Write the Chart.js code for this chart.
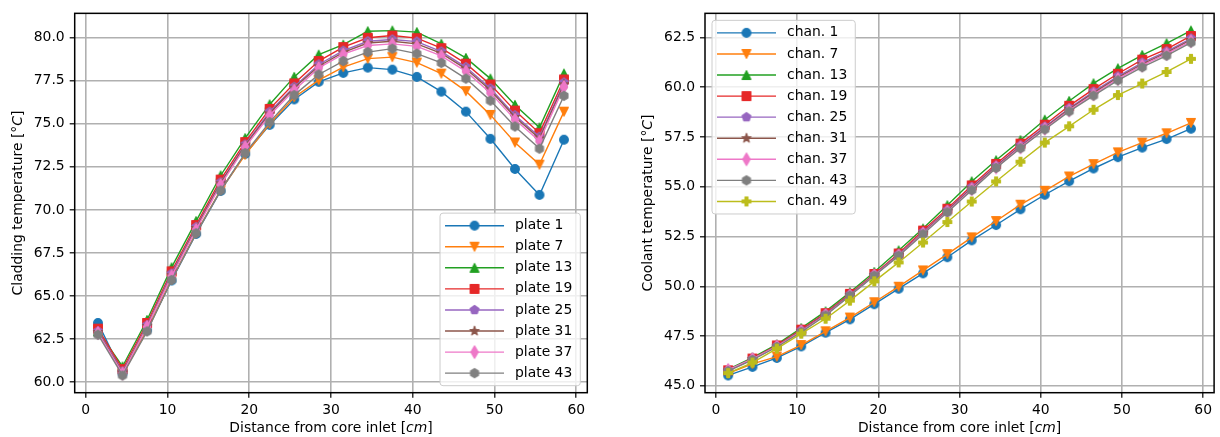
<!DOCTYPE html>
<html>
<head>
<meta charset="utf-8">
<script src="https://cdn.jsdelivr.net/npm/chart.js@4.4.0/dist/chart.umd.min.js"></script>
<style>
  html, body { margin: 0; padding: 0; background: #fff; }
  #wrap { position: relative; width: 1220px; height: 437px; }
  canvas { position: absolute; top: 0; }
</style>
</head>
<body>
<div id="wrap">
  <canvas id="cladding" width="610" height="437" style="left:0"></canvas>
  <canvas id="coolant" width="610" height="437" style="left:610px"></canvas>
</div>
<script>
// axial positions of the nodes [cm]
const distance = [1.5, 4.5, 7.5, 10.5, 13.5, 16.5, 19.5, 22.5, 25.5, 28.5, 31.5, 34.5, 37.5, 40.5, 43.5, 46.5, 49.5, 52.5, 55.5, 58.5];

// cladding temperature per plate [°C]
const plate1  = [63.43, 60.50, 63.00, 65.90, 68.60, 71.10, 73.25, 74.94, 76.42, 77.44, 77.96, 78.27, 78.15, 77.73, 76.87, 75.71, 74.13, 72.38, 70.87, 74.08];
const plate7  = [63.00, 60.45, 63.00, 65.95, 68.65, 71.15, 73.20, 75.00, 76.55, 77.54, 78.30, 78.79, 78.88, 78.56, 77.92, 76.90, 75.52, 73.92, 72.63, 75.71];
const plate13 = [62.95, 60.90, 63.60, 66.66, 69.35, 72.00, 74.17, 76.13, 77.73, 79.02, 79.60, 80.38, 80.42, 80.33, 79.65, 78.83, 77.63, 76.10, 74.79, 77.92];
const plate19 = [63.10, 60.75, 63.43, 66.43, 69.12, 71.76, 73.94, 75.87, 77.35, 78.65, 79.46, 80.00, 80.13, 79.98, 79.40, 78.50, 77.29, 75.77, 74.46, 77.58];
const plate25 = [62.95, 60.60, 63.30, 66.30, 69.00, 71.60, 73.80, 75.70, 77.15, 78.45, 79.25, 79.80, 79.90, 79.78, 79.20, 78.30, 77.05, 75.50, 74.25, 77.40];
const plate31 = [62.90, 60.55, 63.25, 66.20, 68.95, 71.55, 73.75, 75.60, 77.10, 78.35, 79.15, 79.70, 79.80, 79.65, 79.10, 78.20, 76.95, 75.40, 74.15, 77.30];
const plate37 = [62.85, 60.50, 63.20, 66.15, 68.85, 71.45, 73.65, 75.50, 76.95, 78.25, 79.05, 79.55, 79.65, 79.50, 78.95, 78.05, 76.80, 75.25, 74.00, 77.15];
const plate43 = [62.75, 60.38, 62.94, 65.93, 68.64, 71.13, 73.30, 75.10, 76.67, 77.87, 78.65, 79.17, 79.37, 79.08, 78.54, 77.63, 76.35, 74.85, 73.56, 76.63];

// coolant temperature per channel [°C]
const chan1  = [45.52, 45.95, 46.40, 46.98, 47.67, 48.34, 49.10, 49.88, 50.65, 51.46, 52.31, 53.08, 53.87, 54.60, 55.28, 55.92, 56.49, 56.97, 57.40, 57.92];
const chan7  = [45.62, 46.10, 46.47, 47.05, 47.74, 48.43, 49.20, 49.98, 50.80, 51.62, 52.46, 53.28, 54.10, 54.80, 55.52, 56.14, 56.73, 57.22, 57.69, 58.21];
const chan13 = [45.82, 46.42, 47.08, 47.90, 48.74, 49.70, 50.72, 51.80, 52.90, 54.07, 55.27, 56.33, 57.34, 58.37, 59.31, 60.20, 60.95, 61.62, 62.21, 62.85];
const chan19 = [45.78, 46.37, 47.03, 47.82, 48.65, 49.62, 50.62, 51.65, 52.80, 53.90, 55.07, 56.15, 57.17, 58.12, 59.07, 59.91, 60.68, 61.39, 61.92, 62.58];
const chan25 = [45.77, 46.35, 47.00, 47.78, 48.60, 49.58, 50.58, 51.60, 52.72, 53.82, 54.98, 56.06, 57.07, 58.02, 58.95, 59.78, 60.55, 61.24, 61.80, 62.45];
const chan31 = [45.76, 46.34, 46.98, 47.76, 48.58, 49.56, 50.56, 51.57, 52.68, 53.78, 54.93, 56.02, 57.02, 57.97, 58.90, 59.72, 60.49, 61.17, 61.74, 62.38];
const chan37 = [45.80, 46.35, 46.98, 47.74, 48.56, 49.54, 50.55, 51.55, 52.65, 53.75, 54.88, 55.97, 56.98, 57.92, 58.84, 59.65, 60.42, 61.10, 61.68, 62.32];
const chan43 = [45.74, 46.30, 46.95, 47.70, 48.53, 49.53, 50.53, 51.53, 52.62, 53.72, 54.83, 55.95, 56.94, 57.88, 58.79, 59.58, 60.35, 61.01, 61.59, 62.25];
const chan49 = [45.64, 46.17, 46.87, 47.62, 48.37, 49.28, 50.25, 51.20, 52.20, 53.23, 54.26, 55.27, 56.26, 57.22, 58.04, 58.87, 59.61, 60.19, 60.77, 61.43];

const colors = ['#1a77b6', '#ff7f0e', '#22a022', '#e62828', '#9766c0', '#8c564b', '#ee78c8', '#7f7f7f', '#bcbd1c'];
const shapes = ['circle', 'triangleDown', 'triangleUp', 'square', 'pentagon', 'star', 'thinDiamond', 'hexagon', 'plusFilled'];

const FAMILY = "'DejaVu Sans', sans-serif";
const FSIZE = 13.9;

// small canvas sprites for the matplotlib-like markers
function marker(shape, color) {
  const c = document.createElement('canvas');
  c.width = 18; c.height = 18;
  const g = c.getContext('2d');
  const r = 4.3;
  g.translate(9, 9);
  g.beginPath();
  const poly = (n, rad, rot) => {
    for (let k = 0; k < n; k++) {
      const t = rot + k * 2 * Math.PI / n;
      const px = rad * Math.sin(t), py = -rad * Math.cos(t);
      k ? g.lineTo(px, py) : g.moveTo(px, py);
    }
    g.closePath();
  };
  switch (shape) {
    case 'circle': g.arc(0, 0, r, 0, Math.PI * 2); break;
    case 'triangleDown': g.moveTo(0, r); g.lineTo(-r, -r); g.lineTo(r, -r); g.closePath(); break;
    case 'triangleUp': g.moveTo(0, -r); g.lineTo(-r, r); g.lineTo(r, r); g.closePath(); break;
    case 'square': g.rect(-r, -r, 2 * r, 2 * r); break;
    case 'pentagon': poly(5, r * 1.05, 0); break;
    case 'hexagon': poly(6, r * 1.05, 0); break;
    case 'star':
      for (let k = 0; k < 10; k++) {
        const rad = k % 2 ? r * 1.1 * 0.382 : r * 1.1;
        const t = k * Math.PI / 5;
        const px = rad * Math.sin(t), py = -rad * Math.cos(t);
        k ? g.lineTo(px, py) : g.moveTo(px, py);
      }
      g.closePath();
      break;
    case 'thinDiamond': {
      const h = r * 1.414;
      g.moveTo(0, -h); g.lineTo(h * 0.6, 0); g.lineTo(0, h); g.lineTo(-h * 0.6, 0); g.closePath();
      break;
    }
    case 'plusFilled': {
      const a = r / 3, b = r;
      g.moveTo(-a, -b); g.lineTo(a, -b); g.lineTo(a, -a); g.lineTo(b, -a); g.lineTo(b, a); g.lineTo(a, a);
      g.lineTo(a, b); g.lineTo(-a, b); g.lineTo(-a, a); g.lineTo(-b, a); g.lineTo(-b, -a); g.lineTo(-a, -a);
      g.closePath();
      break;
    }
  }
  g.fillStyle = color; g.strokeStyle = color; g.lineWidth = 1.3; g.lineJoin = 'round';
  g.fill(); g.stroke();
  return c;
}

// 5 % margin around the data, like matplotlib autoscaling
function padded(arrays) {
  const all = arrays.flat();
  const lo = Math.min(...all), hi = Math.max(...all), m = 0.05 * (hi - lo);
  return { min: lo - m, max: hi + m };
}

function drawRich(ctx, parts, x, y, rot) {
  ctx.save();
  ctx.translate(x, y);
  ctx.rotate(rot);
  ctx.textBaseline = 'middle';
  ctx.textAlign = 'left';
  ctx.fillStyle = '#000';
  const fontOf = p => (p.italic ? 'italic ' : '') + FSIZE + 'px ' + FAMILY;
  let total = 0;
  parts.forEach(p => { ctx.font = fontOf(p); total += ctx.measureText(p.text).width; });
  let cx = -total / 2;
  parts.forEach(p => { ctx.font = fontOf(p); ctx.fillText(p.text, cx, 0); cx += ctx.measureText(p.text).width; });
  ctx.restore();
}

function drawLegend(chart, lg) {
  const { ctx, chartArea: a } = chart;
  const sets = chart.data.datasets;
  ctx.save();
  ctx.font = FSIZE + 'px ' + FAMILY;
  const textW = Math.max(...sets.map(d => ctx.measureText(d.label).width));
  const rowH = 21.07, w = 75 + textW + 8, h = sets.length * rowH + 4;
  const x0 = lg.corner === 'lower right' ? a.right - lg.inset - w : a.left + lg.inset;
  const y0 = lg.corner === 'lower right' ? a.bottom - lg.inset - h : a.top + lg.inset;
  const rr = 3;
  ctx.beginPath();
  ctx.moveTo(x0 + rr, y0);
  ctx.arcTo(x0 + w, y0, x0 + w, y0 + h, rr);
  ctx.arcTo(x0 + w, y0 + h, x0, y0 + h, rr);
  ctx.arcTo(x0, y0 + h, x0, y0, rr);
  ctx.arcTo(x0, y0, x0 + w, y0, rr);
  ctx.closePath();
  ctx.fillStyle = 'rgba(255,255,255,0.8)';
  ctx.fill();
  ctx.strokeStyle = '#cccccc';
  ctx.lineWidth = 1;
  ctx.stroke();
  sets.forEach((d, i) => {
    const cy = y0 + 2 + rowH * (i + 0.5);
    ctx.beginPath();
    ctx.moveTo(x0 + 5, cy); ctx.lineTo(x0 + 64, cy);
    ctx.strokeStyle = d.borderColor; ctx.lineWidth = d.borderWidth;
    ctx.stroke();
    const img = d.pointStyle;
    ctx.drawImage(img, x0 + 34.5 - img.width / 2, cy - img.height / 2);
    ctx.fillStyle = '#000';
    ctx.textBaseline = 'middle';
    ctx.textAlign = 'left';
    ctx.fillText(d.label, x0 + 75, cy);
  });
  ctx.restore();
}

function decor(cfg) {
  return {
    id: 'decor',
    afterDatasetsDraw(chart) {
      const { ctx, chartArea: a } = chart;
      ctx.save();
      ctx.strokeStyle = '#000';
      ctx.lineWidth = 1.5;
      ctx.strokeRect(a.left, a.top, a.right - a.left, a.bottom - a.top);
      ctx.restore();
    },
    afterDraw(chart) {
      const { ctx, chartArea: a } = chart;
      drawRich(ctx, cfg.xTitle, (a.left + a.right) / 2, 428, 0);
      drawRich(ctx, cfg.yTitle, cfg.yTitleX, (a.top + a.bottom) / 2, -Math.PI / 2);
      drawLegend(chart, cfg.legend);
    }
  };
}

function buildChart(id, series, cfg) {
  const xr = padded([distance]);
  const yr = padded(series.map(s => s.data));
  const font = { family: FAMILY, size: FSIZE };
  const grid = { color: '#b0b0b0', lineWidth: 1.6, tickColor: '#000', tickLength: 5, tickWidth: 1.2 };
  return new Chart(document.getElementById(id), {
    type: 'line',
    data: {
      datasets: series.map((s, i) => ({
        label: s.label,
        data: distance.map((x, k) => ({ x: x, y: s.data[k] })),
        borderColor: colors[i],
        backgroundColor: colors[i],
        borderWidth: 1.4,
        pointStyle: marker(shapes[i], colors[i]),
        pointRadius: 4.5,
        pointHoverRadius: 4.5,
        tension: 0,
        fill: false,
        order: series.length - i
      }))
    },
    options: {
      responsive: false,
      animation: false,
      devicePixelRatio: 1,
      events: [],
      layout: { padding: cfg.padding },
      plugins: { legend: { display: false }, tooltip: { enabled: false } },
      scales: {
        x: {
          type: 'linear', min: xr.min, max: xr.max,
          afterFit(s) { s.height = 30; },
          ticks: { stepSize: 10, includeBounds: false, padding: 4, maxRotation: 0, font: font, color: '#000' },
          grid: grid,
          border: { display: false }
        },
        y: {
          type: 'linear', min: yr.min, max: yr.max,
          afterFit(s) { s.width = 44; },
          ticks: { stepSize: 2.5, includeBounds: false, padding: 5, font: font, color: '#000',
                   callback: v => v.toFixed(1) },
          grid: grid,
          border: { display: false }
        }
      }
    },
    plugins: [decor(cfg)]
  });
}

buildChart('cladding', [
  { label: 'plate 1', data: plate1 },
  { label: 'plate 7', data: plate7 },
  { label: 'plate 13', data: plate13 },
  { label: 'plate 19', data: plate19 },
  { label: 'plate 25', data: plate25 },
  { label: 'plate 31', data: plate31 },
  { label: 'plate 37', data: plate37 },
  { label: 'plate 43', data: plate43 }
], {
  padding: { left: 30.7, right: 22.7, top: 11, bottom: 14.3 },
  xTitle: [{ text: 'Distance from core inlet [' }, { text: 'cm', italic: true }, { text: ']' }],
  yTitle: [{ text: 'Cladding temperature [°' }, { text: 'C', italic: true }, { text: ']' }],
  yTitleX: 18,
  legend: { corner: 'lower right', inset: 7 }
});

buildChart('coolant', [
  { label: 'chan. 1', data: chan1 },
  { label: 'chan. 7', data: chan7 },
  { label: 'chan. 13', data: chan13 },
  { label: 'chan. 19', data: chan19 },
  { label: 'chan. 25', data: chan25 },
  { label: 'chan. 31', data: chan31 },
  { label: 'chan. 37', data: chan37 },
  { label: 'chan. 43', data: chan43 },
  { label: 'chan. 49', data: chan49 }
], {
  padding: { left: 51, right: 3.3, top: 11, bottom: 14.3 },
  xTitle: [{ text: 'Distance from core inlet [' }, { text: 'cm', italic: true }, { text: ']' }],
  yTitle: [{ text: 'Coolant temperature [°' }, { text: 'C', italic: true }, { text: ']' }],
  yTitleX: 38.3,
  legend: { corner: 'upper left', inset: 7 }
});
</script>
</body>
</html>
